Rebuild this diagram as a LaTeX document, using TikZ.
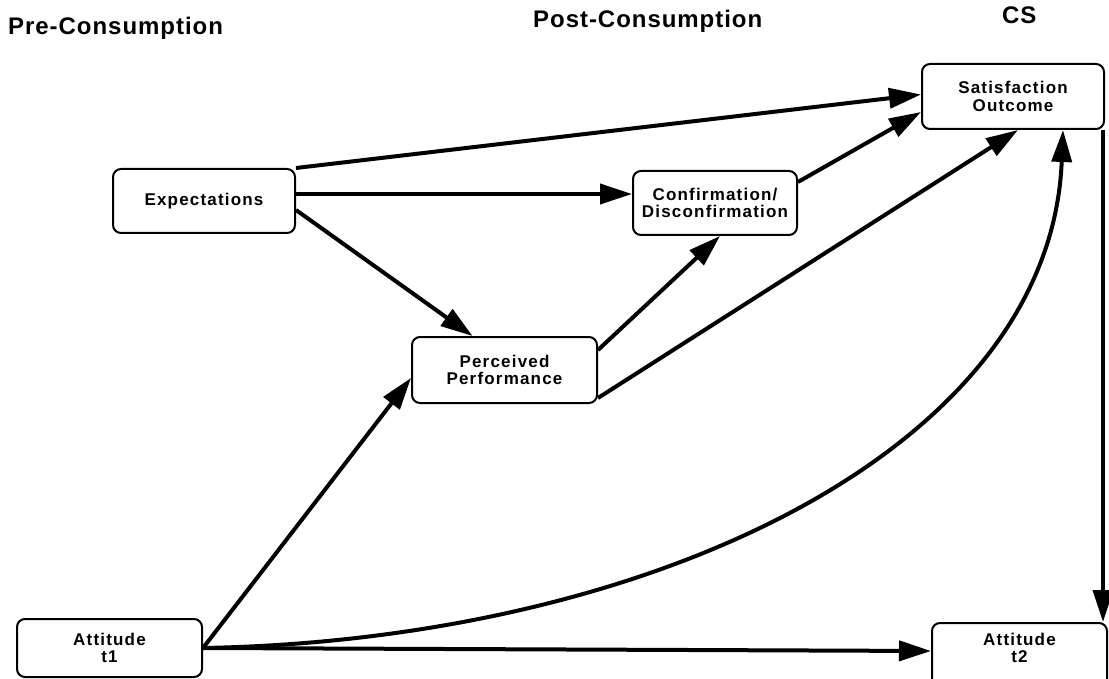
\documentclass[tikz,border=0pt]{standalone}
\usepackage{fontspec}
\setmainfont{Liberation Sans}
\newfontfamily\boxfont[LetterSpace=7]{Liberation Sans}
\newfontfamily\headfont[LetterSpace=4]{Liberation Sans}
\usetikzlibrary{arrows.meta,calc}

\begin{document}
\begin{tikzpicture}[x=1pt,y=-1pt,
  box/.style={draw, line width=2pt, rounded corners=8pt, align=center,
    font=\boxfont\bfseries\fontsize{17}{17.5}\selectfont, inner sep=0pt},
  boxtext/.style={align=center, font=\boxfont\bfseries\fontsize{17}{17.5}\selectfont, inner sep=0pt},
  hd/.style={font=\headfont\bfseries\fontsize{24}{24}\selectfont, inner sep=0pt},
  arr/.style={line width=4pt, -{Triangle[length=32pt,width=20pt]}},
]
\useasboundingbox (0,0) rectangle (1109,679);

% column headings
\node[hd, anchor=base west] (hpre)  at (8,35)    {Pre-Consumption};
\node[hd, anchor=base west] (hpost) at (533,28)  {Post-Consumption};
\node[hd, anchor=base west] (hcs)   at (1002,24) {CS};

% boxes
\node[box, minimum width=182pt, minimum height=65pt] (sat)  at (1013,96.5) {Satisfaction\\Outcome};
\node[box, minimum width=182pt, minimum height=64pt] (exp)  at (204,201)   {Expectations};
\node[box, minimum width=164pt, minimum height=64pt] (conf) at (715,203)   {Confirmation/\\Disconfirmation};
\node[box, minimum width=185pt, minimum height=66pt] (perc) at (504.5,370) {Perceived\\Performance};
\node[box, minimum width=185pt, minimum height=58pt] (att1) at (109.5,648) {Attitude\\t1};
\node[box, minimum width=175pt, minimum height=66pt] (att2) at (1019.5,656) {};
\node[boxtext] (att2t) at ($(att2.center)+(0,-8)$) {Attitude\\t2};

% connectors
\draw[arr] (exp.north east) -- ($(sat.west)+(0,-2)$);
\draw[arr] ($(exp.east)+(0,-7)$) -- ($(conf.west)+(0,-9)$);
\draw[arr] ($(exp.south east)+(0,-24)$) -- ($(perc.north)+(-32,0)$);
\draw[arr] ($(conf.north east)+(0,12)$) -- ($(sat.south west)+(0,-18)$);
\draw[arr] ($(perc.north east)+(0,14)$) -- ($(conf.south)+(5,0)$);
\draw[arr] ($(perc.south east)+(0,-6)$) -- ($(sat.south)+(5,0)$);
\draw[arr] (att1.east) -- ($(perc.west)+(0,8)$);
\draw[arr] (att1.east) .. controls (650,640) and (1050,450) .. ($(sat.south)+(50,0)$);
\draw[arr] (att1.east) -- ($(att2.west)+(0,-5)$);
\coordinate (down) at ($(sat.south east)+(-2,0)$);
\draw[arr] (down) -- (down |- att2.north);
\end{tikzpicture}
\end{document}
